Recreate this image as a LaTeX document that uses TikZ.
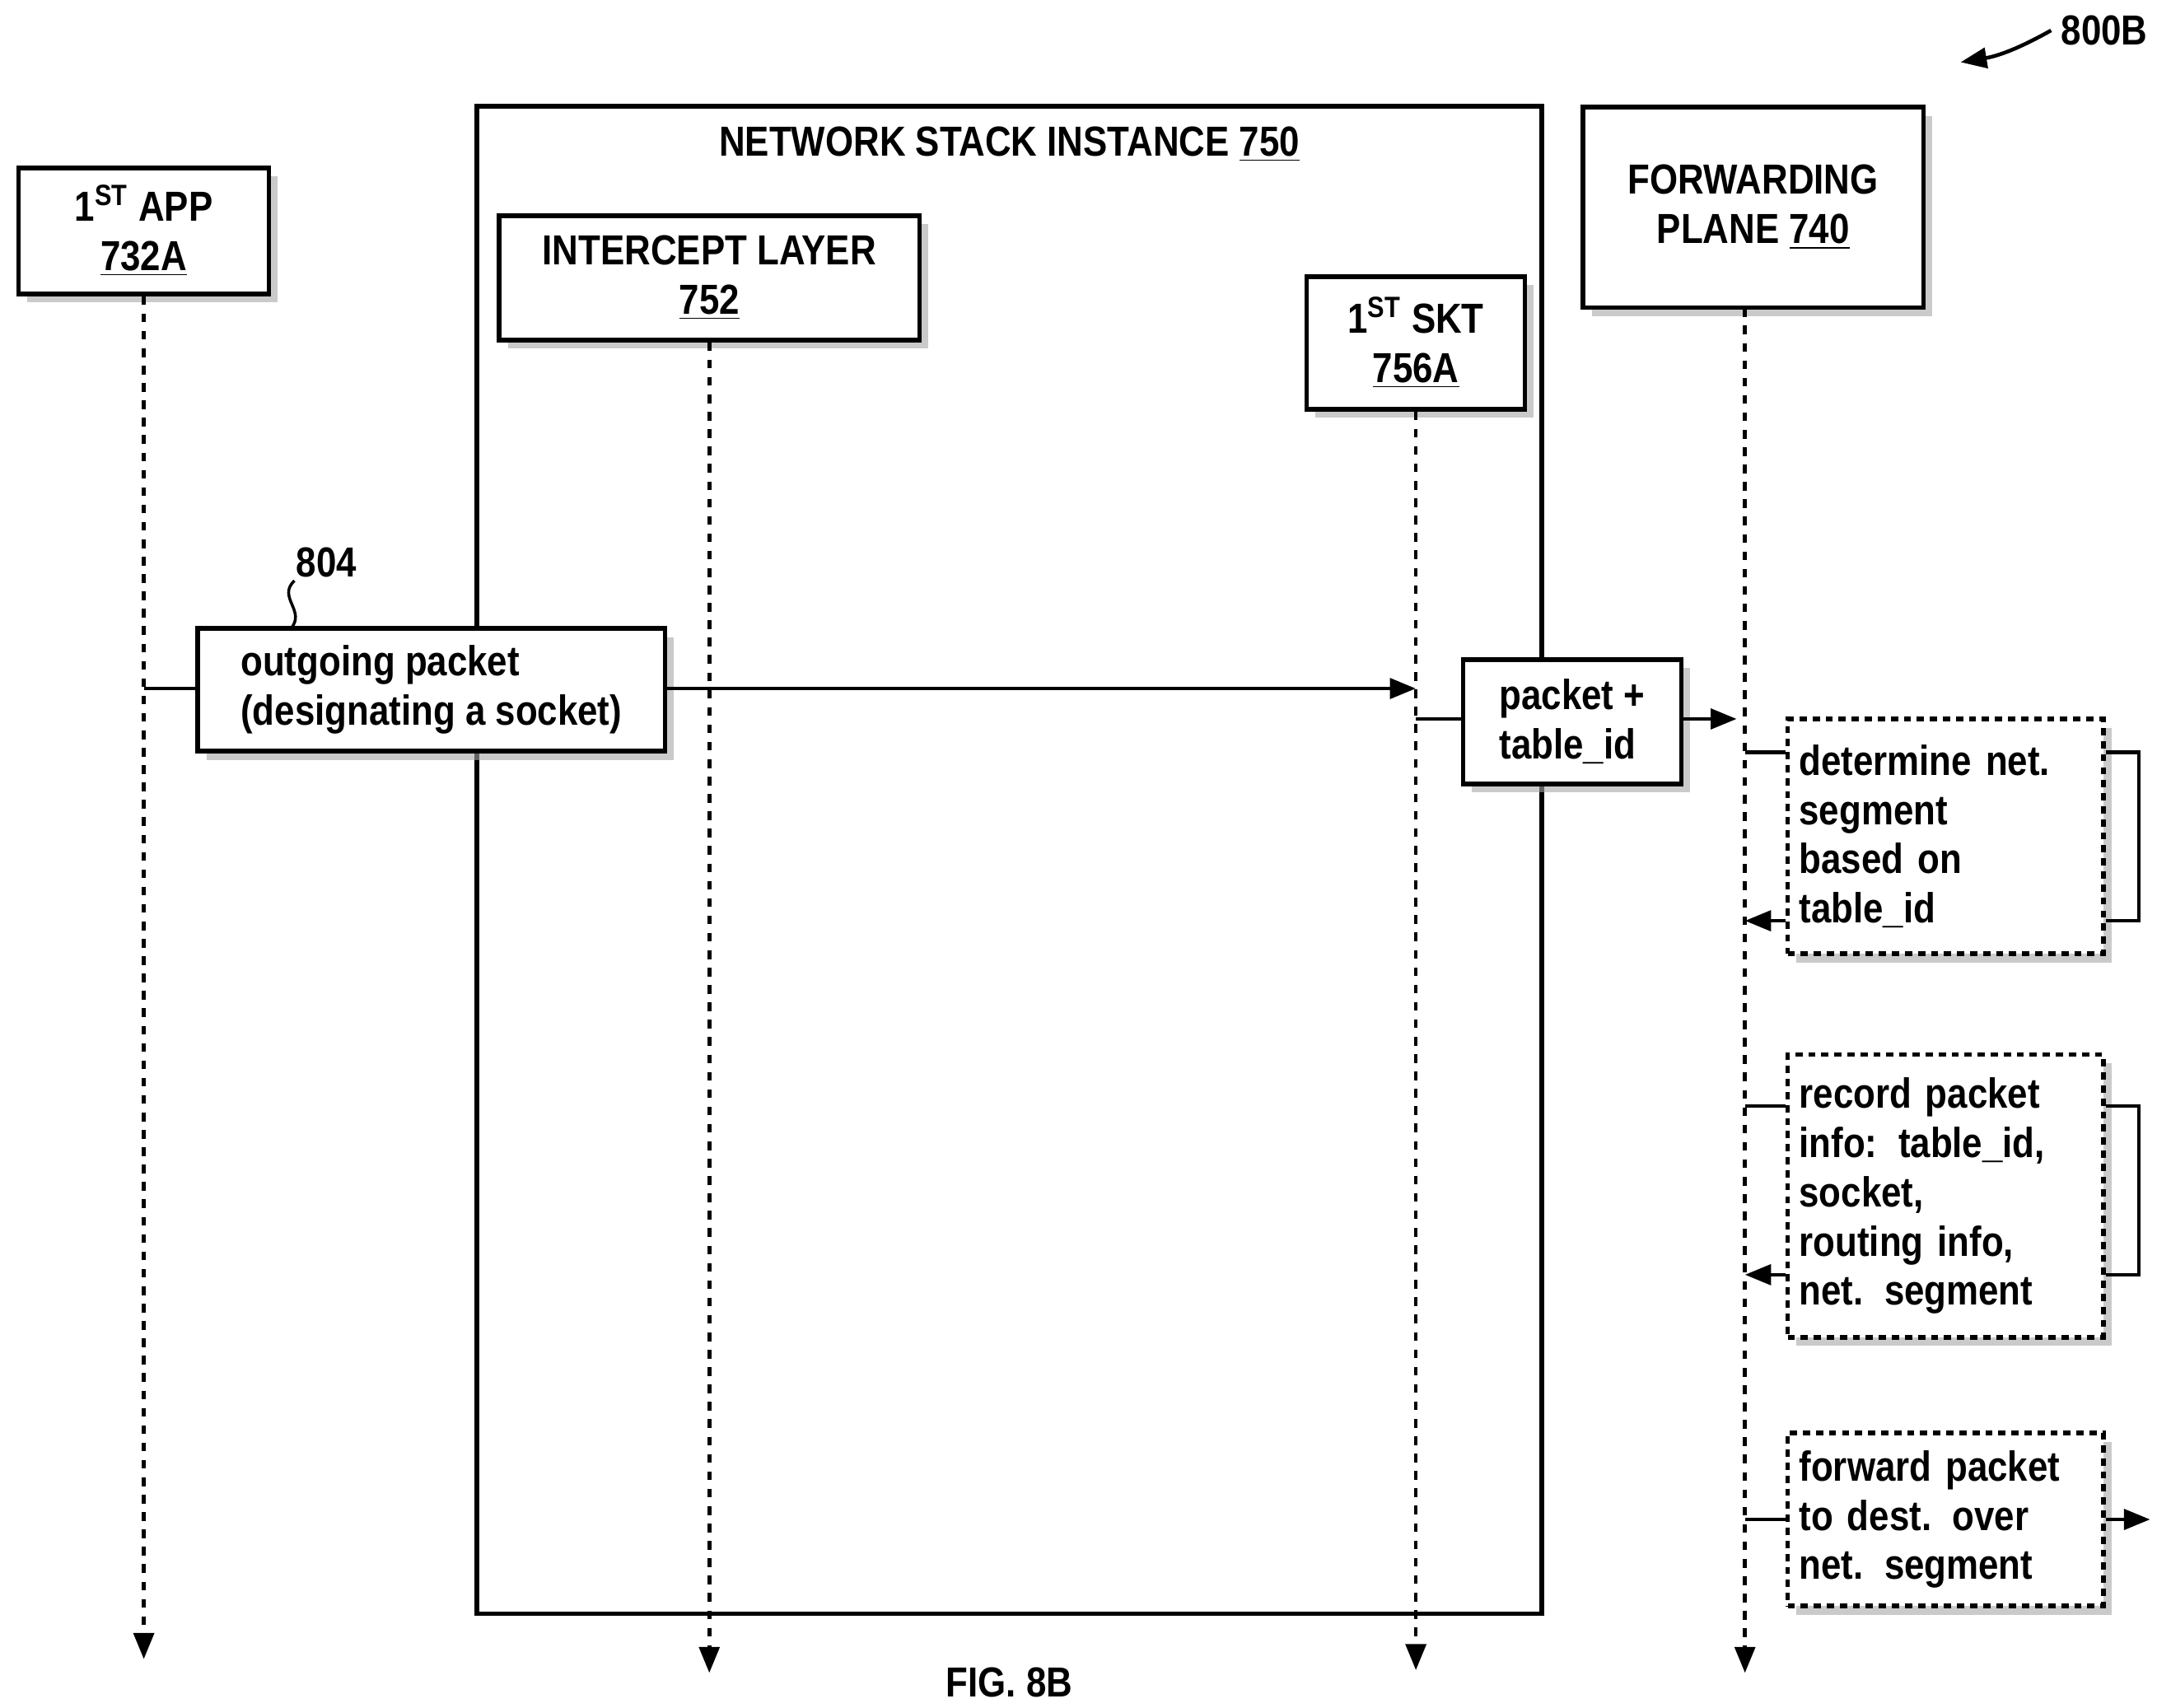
\documentclass[tikz,border=0pt]{standalone}
\usepackage{fontspec}
\setmainfont{Liberation Sans}[FakeStretch=0.86]
\usetikzlibrary{arrows.meta,shadows,decorations.pathmorphing}

\begin{document}
\begin{tikzpicture}[
    x=0.01679cm, y=-0.01679cm,
    every node/.style={font=\bfseries\fontsize{14.5}{17}\selectfont},
    box/.style={rectangle,draw=black,line width=1.6pt,fill=white,align=center,
        drop shadow={fill=black!35,shadow xshift=3pt,shadow yshift=-3pt,opacity=0.6}},
    fwdstep/.style={box,align=left,text width=3.55cm,inner sep=4pt,dash pattern=on 2.5pt off 2pt},
    life/.style={line width=1.3pt,dash pattern=on 3pt off 3pt,-{Triangle[length=9pt,width=7pt]}},
    arrow/.style={line width=1.3pt,-{Triangle[length=9pt,width=7pt]}},
    tick/.style={line width=1.3pt}
]
\useasboundingbox (0,0) rectangle (1560,1235);

% =====================
% HEADERS
% =====================
\node[draw,line width=1.6pt,minimum width=12.93cm,minimum height=18.3cm] (stack) at (730,622) {};
\node[anchor=north] (stacktitle) at (730,84) {NETWORK STACK INSTANCE \underline{750}};

\node[box,minimum width=3.04cm,minimum height=1.53cm] (app) at (104,167) {1\textsuperscript{ST} APP\\\underline{732A}};
\node[box,minimum width=5.10cm,minimum height=1.51cm] (intercept) at (513,201) {INTERCEPT LAYER\\\underline{752}};
\node[box,minimum width=2.65cm,minimum height=1.61cm] (skt) at (1024,248) {1\textsuperscript{ST} SKT\\\underline{756A}};
\node[box,minimum width=4.13cm,minimum height=2.43cm] (fwd) at (1268,150) {FORWARDING\\PLANE \underline{740}};
\node (fig) at (1522,22) {800B};
\node (figlabel) at (730,1217) {FIG. 8B};
\draw[arrow] (fig.west) to[bend left=10] (1418,45);

% =====================
% LIFELINES
% =====================
\coordinate (append) at (104,1200);
\coordinate (intend) at (513,1210);
\coordinate (sktend) at (1024,1208);
\coordinate (fwdend) at (1262,1210);
\draw[life] (app.south) -- (append);
\draw[life] (intercept.south) -- (intend);
\draw[life] (skt.south) -- (sktend);
\draw[life] (1262,223) -- (fwdend);

% =====================
% MESSAGES
% =====================
\node[box,align=left,minimum width=5.67cm,minimum height=1.49cm] (outgoing) at (312,499) {outgoing packet\\(designating a socket)};
\node (n804) at (236,407) {804};
\draw[line width=1pt] (213,420) .. controls (200,432) and (222,442) .. (210,455);
\draw[tick] (104,498) -- (outgoing.west |- 0,498);
\draw[arrow] (outgoing.east |- 0,498) -- (1024,498);

\node[box,align=left,minimum width=2.65cm,minimum height=1.51cm] (pkt) at (1137,522) {packet +\\table\_id};
\draw[tick] (1024,520) -- (pkt.west |- 0,520);
\draw[arrow] (pkt.east |- 0,520) -- (1256,520);

% =====================
% FORWARDING STEPS
% =====================
\node[fwdstep,minimum height=2.85cm] (seg) at (1407,605) {determine net.\\segment\\based on\\table\_id};
\draw[tick] (1262,544) -- (seg.west |- 0,544);
\draw[tick] (seg.east |- 0,544) -- (1547,544) -- (1547,666) -- (seg.east |- 0,666);
\draw[arrow] (seg.west |- 0,666) -- (1262,666);

\node[fwdstep,minimum height=3.43cm] (record) at (1407,865) {record packet\\info: table\_id,\\socket,\\routing info,\\net. segment};
\draw[tick] (1262,800) -- (record.west |- 0,800);
\draw[tick] (record.east |- 0,800) -- (1547,800) -- (1547,922) -- (record.east |- 0,922);
\draw[arrow] (record.west |- 0,922) -- (1262,922);

\node[fwdstep,minimum height=2.10cm] (forward) at (1407,1099) {forward packet\\to dest. over\\net. segment};
\draw[tick] (1262,1099) -- (forward.west |- 0,1099);
\draw[arrow] (forward.east |- 0,1099) -- (1555,1099);

\end{tikzpicture}
\end{document}
